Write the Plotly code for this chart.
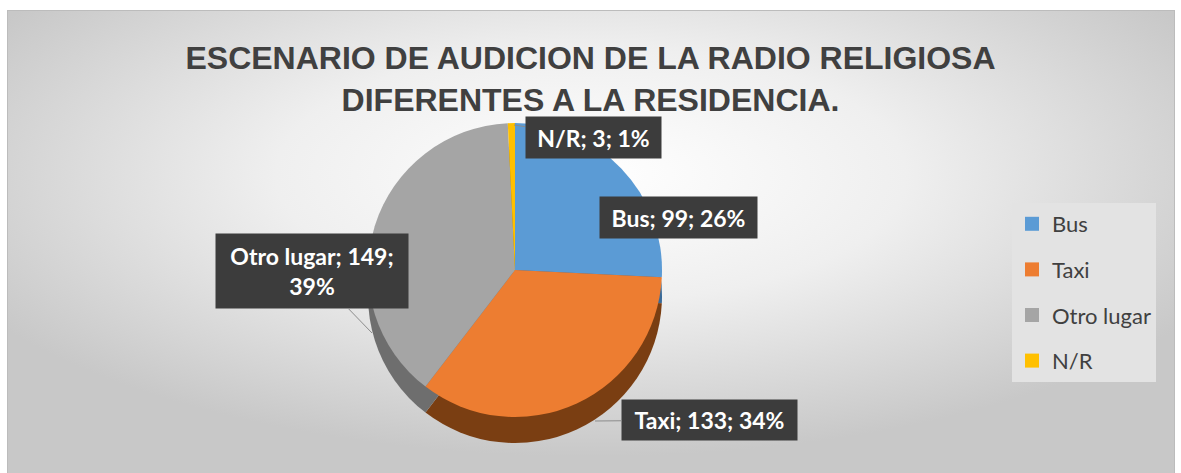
import base64
import plotly.graph_objects as go

# ---------------- data ----------------
categories = ["Bus", "Taxi", "Otro lugar", "N/R"]
values = [99, 133, 149, 3]
percent_labels = [26, 34, 39, 1]          # as printed on the chart
top_colors = ["#5B9BD5", "#ED7D31", "#A5A5A5", "#FFC000"]
side_colors = ["#3A6A98", "#7A3E12", "#6E6E6E", "#A88000"]
title_text = "ESCENARIO DE AUDICION DE LA RADIO RELIGIOSA<br>DIFERENTES A LA RESIDENCIA."

W, H = 1181, 473

def px(x):
    return x / W

def py(y):
    return 1 - y / H

# background gradient (chart area) as an inline SVG image
svg = f"""<svg xmlns='http://www.w3.org/2000/svg' width='1168' height='470' viewBox='0 0 1168 470'>
<defs><radialGradient id='g' cx='50%' cy='35%' r='60%' fx='50%' fy='35%'>
<stop offset='0' stop-color='#ffffff'/><stop offset='0.45' stop-color='#efefef'/>
<stop offset='1' stop-color='#c8c8c8'/></radialGradient></defs>
<rect x='0' y='0' width='1168' height='470' fill='url(#g)' stroke='#bcbcbc' stroke-width='2'/>
</svg>"""
bg_uri = "data:image/svg+xml;base64," + base64.b64encode(svg.encode()).decode()

fig = go.Figure()

# pie geometry (circle approximating the 3D ellipse)
cx, cy, r, depth = 515, 270, 147, 26

# side (depth) layer
fig.add_trace(go.Pie(
    labels=categories, values=values, sort=False, direction="clockwise", rotation=0,
    marker=dict(colors=side_colors, line=dict(width=0)),
    textinfo="none", hoverinfo="skip", showlegend=False,
    domain=dict(x=[px(cx - r), px(cx + r)], y=[py(cy + depth + r), py(cy + depth - r)]),
))
# top face
fig.add_trace(go.Pie(
    labels=categories, values=values, sort=False, direction="clockwise", rotation=0,
    marker=dict(colors=top_colors, line=dict(width=0)),
    textinfo="none", showlegend=False,
    domain=dict(x=[px(cx - r), px(cx + r)], y=[py(cy + r), py(cy - r)]),
))

# legend entries
for cat, col in zip(categories, top_colors):
    fig.add_trace(go.Scatter(
        x=[None], y=[None], mode="markers", name=cat, legendgroup=cat,
        marker=dict(symbol="square", size=14, color=col), showlegend=True,
    ))

# data labels
seps = ["; ", "; ", ";<br>", "; "]
label_pos = {
    "Bus": dict(x=678, y=217, w=145, h=29, arrow=None),
    "Taxi": dict(x=710, y=420, w=163, h=28, arrow=(595, 421)),
    "Otro lugar": dict(x=312, y=271, w=180, h=62, arrow=(372, 333)),
    "N/R": dict(x=593, y=137, w=123, h=29, arrow=(514, 125)),
}
annotations = []
for cat, val, pct, sep in zip(categories, values, percent_labels, seps):
    p = label_pos[cat]
    txt = f"<b>{cat}; {val}{sep}{pct}%</b>"
    a = dict(text=txt, xref="paper", yref="paper",
             font=dict(family="Lato, Open Sans, sans-serif", size=23, color="white"),
             bgcolor="#3C3C3C", borderpad=6, width=p["w"], height=p["h"], align="center",
             valign="middle", xanchor="center", yanchor="middle")
    if p["arrow"] is None:
        a.update(x=px(p["x"]), y=py(p["y"]), showarrow=False)
    else:
        axp, ayp = p["arrow"]
        a.update(x=px(axp), y=py(ayp), showarrow=True, arrowhead=0, arrowwidth=1,
                 arrowcolor="#8c8c8c", ax=p["x"] - axp, ay=p["y"] - ayp)
    annotations.append(a)

fig.update_layout(
    width=W, height=H,
    margin=dict(l=0, r=0, t=0, b=0),
    paper_bgcolor="white", plot_bgcolor="rgba(0,0,0,0)",
    images=[dict(source=bg_uri, xref="paper", yref="paper", x=px(7), y=py(10),
                 sizex=1168 / W, sizey=470 / H, sizing="stretch", layer="below",
                 xanchor="left", yanchor="top")],
    title=dict(text=f"<b>{title_text}</b>", x=0.5, xanchor="center", xref="paper",
               y=py(69), yanchor="top", yref="paper",
               font=dict(family="Liberation Sans, Arial, sans-serif", size=32, color="#404040")),
    xaxis=dict(visible=False), yaxis=dict(visible=False),
    legend=dict(x=px(1012), y=py(203), xanchor="left", yanchor="top",
                bgcolor="#E3E3E3", borderwidth=0, traceorder="grouped", tracegroupgap=14,
                font=dict(family="Lato, Open Sans, sans-serif", size=22, color="#404040")),
    annotations=annotations,
    showlegend=True,
)

fig.write_html("out.html", config={"displayModeBar": False},
               post_script="document.body.style.margin='0';")
